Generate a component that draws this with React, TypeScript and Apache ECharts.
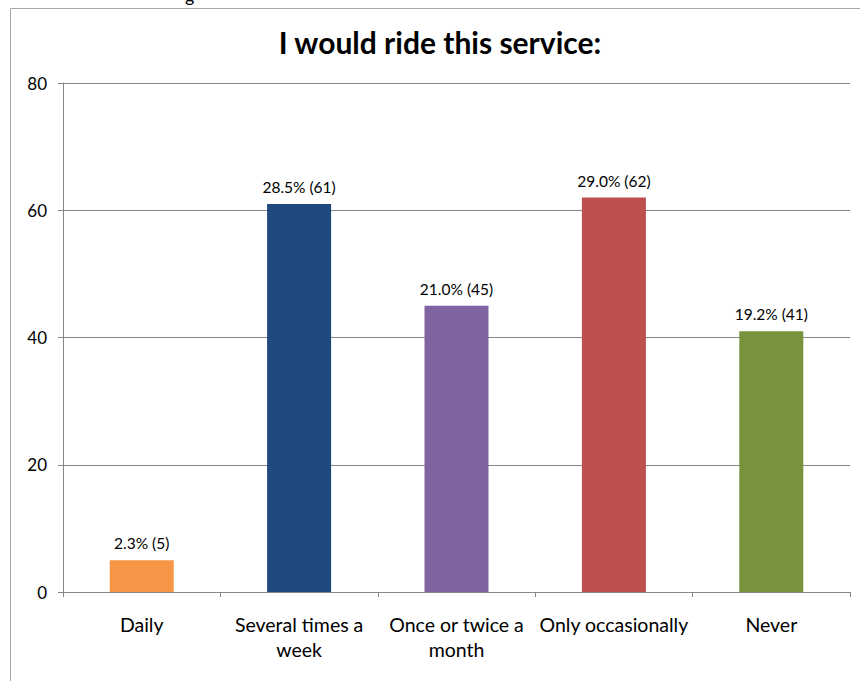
import React, { useEffect, useRef } from "react";
import * as echarts from "echarts";

const categories = ["Daily", "Several times a\nweek", "Once or twice a\nmonth", "Only occasionally", "Never"];
const counts = [5, 61, 45, 62, 41];
const percents = ["2.3%", "28.5%", "21.0%", "29.0%", "19.2%"];
const colors = ["#F79646", "#1F497D", "#8064A2", "#C0504D", "#77933C"];
const yTicks = { min: 0, max: 80, interval: 20 };
const titleText = "I would ride this service:";

const FONT = "Lato, 'Liberation Sans', sans-serif";

export default function App() {
  const ref = useRef<HTMLDivElement>(null);
  useEffect(() => {
    document.body.style.margin = "0";
    const chart = echarts.init(ref.current!, undefined, { renderer: "svg" });
    chart.setOption({
      animation: false,
      backgroundColor: "#ffffff",
      graphic: [
        {
          type: "rect",
          shape: { x: 10.5, y: 8.5, width: 900, height: 700 },
          style: { fill: "none", stroke: "#a6a6a6", lineWidth: 1 },
          silent: true,
        },
        {
          type: "text",
          x: 185,
          y: -14,
          style: { text: "g", fontSize: 18, fontFamily: FONT, fill: "#000" },
          silent: true,
        },
        {
          type: "text",
          x: 440,
          y: 42,
          style: {
            text: titleText,
            fontSize: 30,
            fontWeight: "bold",
            fontFamily: FONT,
            fill: "#000",
            align: "center",
            verticalAlign: "middle",
          },
          silent: true,
        },
      ],
      grid: { left: 63, right: 10, top: 83, bottom: 89, containLabel: false },
      xAxis: {
        type: "category",
        data: categories,
        axisLine: { show: true, lineStyle: { color: "#868686", width: 1 } },
        axisTick: { show: true, length: 5, interval: 0, lineStyle: { color: "#868686" } },
        axisLabel: {
          interval: 0,
          margin: 20,
          fontFamily: FONT,
          fontSize: 19.5,
          color: "#000",
          lineHeight: 25,
        },
      },
      yAxis: {
        type: "value",
        min: yTicks.min,
        max: yTicks.max,
        interval: yTicks.interval,
        axisLine: { show: true, lineStyle: { color: "#868686", width: 1 } },
        axisTick: { show: true, length: 5, inside: false, lineStyle: { color: "#868686" } },
        splitLine: { show: true, lineStyle: { color: "#868686", width: 1 } },
        axisLabel: { margin: 16, fontFamily: FONT, fontSize: 17, color: "#000" },
      },
      series: [
        {
          type: "bar",
          barWidth: 64,
          data: counts.map((v, i) => ({ value: v, itemStyle: { color: colors[i] } })),
          label: {
            show: true,
            position: "top",
            distance: 9,
            fontFamily: FONT,
            fontSize: 15.5,
            color: "#000",
            formatter: (p: any) => `${percents[p.dataIndex]} (${counts[p.dataIndex]})`,
          },
        },
      ],
    });
    return () => chart.dispose();
  }, []);
  return <div ref={ref} style={{ width: 860, height: 681 }} />;
}
